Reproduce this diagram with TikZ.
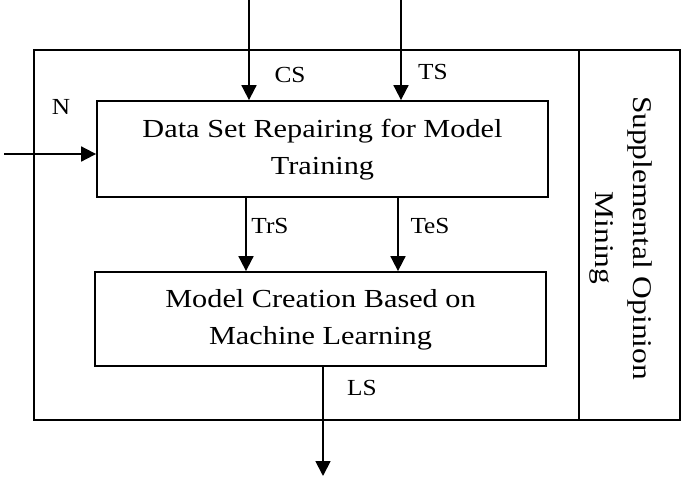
\documentclass[tikz,border=0pt]{standalone}
\usepackage{fontspec}
\usepackage{graphicx}
\setmainfont{Liberation Serif}
\usetikzlibrary{arrows.meta}
\newcommand{\widetext}[1]{\scalebox{1.165}[1]{\begin{tabular}{@{}c@{}}#1\end{tabular}}}
\newcommand{\widelbl}[1]{\scalebox{1.1}[1]{#1}}
\begin{document}
\begin{tikzpicture}[x=1pt,y=-1pt,
  line width=1.8pt,
  boxstyle/.style={draw, rectangle, inner sep=0pt, align=center, font=\fontsize{26}{37}\selectfont},
  lbl/.style={font=\fontsize{23}{25}\selectfont, inner sep=0pt},
  arr/.style={-{Triangle[length=15pt,width=15pt]}}]
\useasboundingbox (0,0) rectangle (685,480);
\node[draw, rectangle, minimum width=646pt, minimum height=370pt, inner sep=0pt] (outer) at (357,235) {};
\coordinate (divtop) at (579,50);
\coordinate (divbot) at (579,420);
\draw (divtop) -- (divbot);
\node[boxstyle, minimum width=451pt, minimum height=96pt] (top) at (322.5,149) {\widetext{Data Set Repairing for Model\\Training}};
\node[boxstyle, minimum width=451pt, minimum height=94pt] (bot) at (320.5,319) {\widetext{Model Creation Based on\\Machine Learning}};
\node[rotate=-90, inner sep=0pt, font=\fontsize{27}{38}\selectfont] (side) at (621.6,238) {\widetext{Supplemental Opinion\\Mining}};
% inputs
\coordinate (cs0) at (249,0);
\coordinate (ts0) at (401,0);
\coordinate (n0) at (4,154);
\coordinate (ls1) at (323,476);
\draw[arr] (cs0) -- (cs0 |- top.north);
\draw[arr] (ts0) -- (ts0 |- top.north);
\draw[arr] (n0) -- (n0 -| top.west);
\coordinate (trs0) at (246,0);
\coordinate (tes0) at (398,0);
\draw[arr] (trs0 |- top.south) -- (trs0 |- bot.north);
\draw[arr] (tes0 |- top.south) -- (tes0 |- bot.north);
\draw[arr] (ls1 |- bot.south) -- (ls1);
% labels
\node[lbl] (lcs) at (290,74.5) {\widelbl{CS}};
\node[lbl] (lts) at (433,72) {\widelbl{TS}};
\node[lbl] (ln) at (61,107) {\widelbl{N}};
\node[lbl] (ltrs) at (270,226) {\widelbl{TrS}};
\node[lbl] (ltes) at (430,226) {\widelbl{TeS}};
\node[lbl] (lls) at (362,388) {\widelbl{LS}};
\end{tikzpicture}
\end{document}
